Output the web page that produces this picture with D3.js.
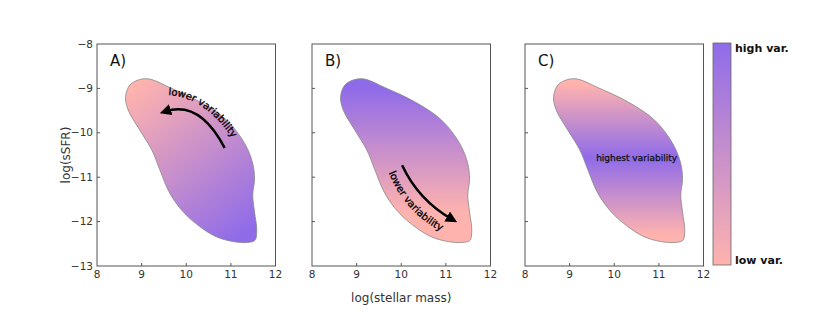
<!DOCTYPE html>
<html>
<head>
<meta charset="utf-8">
<script src="https://cdn.jsdelivr.net/npm/d3@7"></script>
<style>
  body { margin: 0; background: #fff; }
  svg { display: block; font-family: "DejaVu Sans", sans-serif; }
</style>
</head>
<body>
<svg class="chart" width="831" height="313"></svg>
<script>
// axis ticks
const massTicks = [8, 9, 10, 11, 12];
const ssfrTicks = [-8, -9, -10, -11, -12, -13];
const panelLabels = ["A)", "B)", "C)"];

// outline of the galaxy region (log stellar mass, log sSFR)
const blobMass = [8.64, 8.74, 8.96, 9.18, 9.63, 10.30, 10.90, 11.31, 11.49, 11.53, 11.49, 11.53,
    11.58, 11.54, 11.37, 11.05, 10.67, 10.30, 9.93, 9.63, 9.41, 9.23, 8.96, 8.70];
const blobSSFR = [-9.19, -8.92, -8.80, -8.79, -8.98, -9.30, -9.71, -10.24, -10.69, -11.06, -11.40, -11.78,
    -12.19, -12.42, -12.47, -12.45, -12.34, -12.11, -11.78, -11.36, -10.84, -10.39, -9.94, -9.49];

const pink = "#ffb3ae";
const purple = "#8f6be9";

// gradient axis per panel: start/end (mass, sSFR) and stops
const gradStart = [[8.8, -9.0], [10, -9.0], [10, -8.9]];
const gradEnd = [[11.4, -12.2], [10, -11.8], [10, -12.3]];
const gradStops = [
    [[0, pink], [1, purple]],
    [[0, purple], [1, pink]],
    [[0, pink], [0.49, purple], [1, pink]]
];

// annotation arrows (start, control, end) in data units, panels A and B
const arrowMass = [[10.86, 10.30, 9.53], [10.02, 10.38, 11.14]];
const arrowSSFR = [[-10.34, -9.26, -9.52], [-10.73, -11.51, -11.95]];
const notePathMass = [[9.39, 10.42, 11.14], [9.66, 10.06, 11.03]];
const notePathSSFR = [[-9.15, -9.08, -10.30], [-10.75, -11.85, -12.28]];

const svg = d3.select(".chart");
const panelLeft = [97, 312, 525];
const plotTop = 44, pw = 178.5, ph = 222;

const x = d3.scaleLinear().domain([8, 12]).range([0, pw]);
const y = d3.scaleLinear().domain([-13, -8]).range([ph, 0]);

const defs = svg.append("defs");
defs.append("marker")
    .attr("id", "head")
    .attr("viewBox", "0 0 10 10")
    .attr("refX", 5).attr("refY", 5)
    .attr("markerWidth", 4.6).attr("markerHeight", 4.6)
    .attr("markerUnits", "strokeWidth")
    .attr("orient", "auto")
    .append("path")
    .attr("d", "M0,0 L10,5 L0,10 z")
    .attr("fill", "#000");

const blob = d3.line()
    .x(d => x(d[0]))
    .y(d => y(d[1]))
    .curve(d3.curveCatmullRomClosed.alpha(0.5));
const blobPts = blobMass.map((m, i) => [m, blobSSFR[i]]);

panelLabels.forEach((lab, p) => {
    const g = svg.append("g").attr("transform", `translate(${panelLeft[p]},${plotTop})`);

    const grad = defs.append("linearGradient")
        .attr("id", "grad" + p)
        .attr("gradientUnits", "userSpaceOnUse")
        .attr("x1", x(gradStart[p][0])).attr("y1", y(gradStart[p][1]))
        .attr("x2", x(gradEnd[p][0])).attr("y2", y(gradEnd[p][1]));
    grad.selectAll("stop").data(gradStops[p]).enter().append("stop")
        .attr("offset", d => d[0])
        .attr("stop-color", d => d[1]);

    g.append("path")
        .attr("d", blob(blobPts))
        .attr("fill", `url(#grad${p})`)
        .attr("stroke", "#888")
        .attr("stroke-width", 0.8);

    // frame
    g.append("rect")
        .attr("width", pw).attr("height", ph)
        .attr("fill", "none")
        .attr("stroke", "#555")
        .attr("stroke-width", 1);

    // inward ticks
    g.selectAll(".xt").data(massTicks.slice(1, -1)).enter().append("line")
        .attr("x1", d => x(d)).attr("x2", d => x(d))
        .attr("y1", ph).attr("y2", ph - 3)
        .attr("stroke", "#555");
    g.selectAll(".yt").data(ssfrTicks.slice(1, -1)).enter().append("line")
        .attr("x1", 0).attr("x2", 3)
        .attr("y1", d => y(d)).attr("y2", d => y(d))
        .attr("stroke", "#555");

    g.selectAll(".xl").data(massTicks).enter().append("text")
        .attr("x", d => x(d))
        .attr("y", ph + 12)
        .attr("text-anchor", "middle")
        .attr("font-size", 10.5)
        .attr("fill", "#333")
        .text(d => d);

    if (p === 0) {
        g.selectAll(".yl").data(ssfrTicks).enter().append("text")
            .attr("x", -4)
            .attr("y", d => y(d))
            .attr("dy", "0.35em")
            .attr("text-anchor", "end")
            .attr("font-size", 10.5)
            .attr("fill", "#333")
            .text(d => "\u2212" + Math.abs(d));
        g.append("text")
            .attr("transform", `translate(-27,${ph / 2}) rotate(-90)`)
            .attr("text-anchor", "middle")
            .attr("font-size", 12)
            .attr("fill", "#333")
            .text("log(sSFR)");
    }
    if (p === 1) {
        g.append("text")
            .attr("x", pw / 2)
            .attr("y", ph + 36)
            .attr("text-anchor", "middle")
            .attr("font-size", 12)
            .attr("fill", "#333")
            .text("log(stellar mass)");
    }

    g.append("text")
        .attr("x", 13).attr("y", 22)
        .attr("font-size", 15)
        .attr("fill", "#111")
        .text(lab);

    if (p < 2) {
        const am = arrowMass[p], as = arrowSSFR[p];
        g.append("path")
            .attr("d", `M${x(am[0])},${y(as[0])} Q${x(am[1])},${y(as[1])} ${x(am[2])},${y(as[2])}`)
            .attr("fill", "none")
            .attr("stroke", "#000")
            .attr("stroke-width", 2.5)
            .attr("marker-end", "url(#head)");
        const nm = notePathMass[p], ns = notePathSSFR[p];
        g.append("path")
            .attr("id", "note" + p)
            .attr("fill", "none")
            .attr("d", `M${x(nm[0])},${y(ns[0])} Q${x(nm[1])},${y(ns[1])} ${x(nm[2])},${y(ns[2])}`);
        g.append("text")
            .attr("font-size", 10)
            .attr("fill", "#000")
            .attr("stroke", "#000")
            .attr("stroke-width", 0.3)
            .append("textPath")
            .attr("href", "#note" + p)
            .attr("startOffset", "50%")
            .attr("text-anchor", "middle")
            .text("lower variability");
    } else {
        g.append("text")
            .attr("x", x(10.5)).attr("y", y(-10.57))
            .attr("dy", "0.35em")
            .attr("text-anchor", "middle")
            .attr("font-size", 9)
            .attr("fill", "#111")
            .attr("stroke", "#111")
            .attr("stroke-width", 0.25)
            .text("highest variability");
    }
});

// colorbar
const cbGrad = defs.append("linearGradient")
    .attr("id", "cbGrad")
    .attr("x1", 0).attr("y1", 0).attr("x2", 0).attr("y2", 1);
cbGrad.append("stop").attr("offset", 0).attr("stop-color", purple);
cbGrad.append("stop").attr("offset", 1).attr("stop-color", pink);

svg.append("rect")
    .attr("x", 713).attr("y", 43)
    .attr("width", 18).attr("height", 222)
    .attr("fill", "url(#cbGrad)")
    .attr("stroke", "#666")
    .attr("stroke-width", 0.8);
svg.append("text")
    .attr("x", 735).attr("y", 52)
    .attr("font-size", 11).attr("font-weight", "bold")
    .attr("fill", "#111")
    .text("high var.");
svg.append("text")
    .attr("x", 735).attr("y", 264)
    .attr("font-size", 11).attr("font-weight", "bold")
    .attr("fill", "#111")
    .text("low var.");
</script>
</body>
</html>
